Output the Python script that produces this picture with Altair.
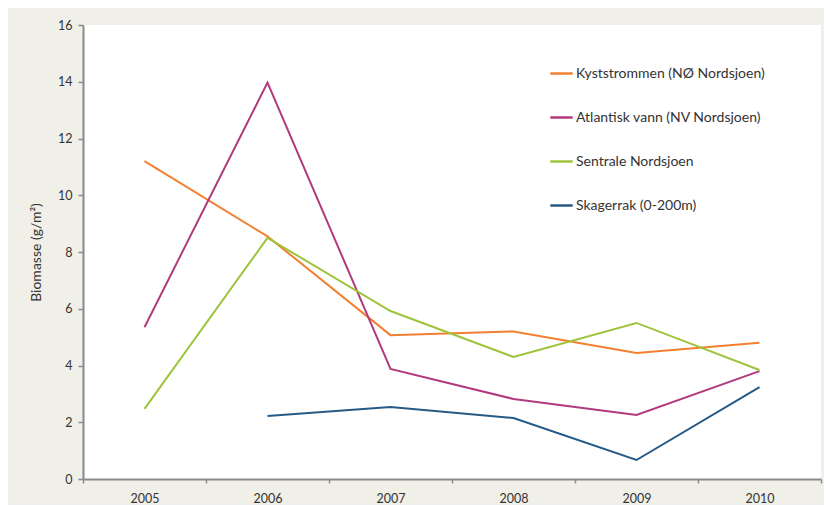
import altair as alt
import pandas as pd

years = ["2005", "2006", "2007", "2008", "2009", "2010"]
series_names = [
    "Kyststrommen (NØ Nordsjoen)",
    "Atlantisk vann (NV Nordsjoen)",
    "Sentrale Nordsjoen",
    "Skagerrak (0-200m)",
]
kyst = [11.2, 8.55, 5.07, 5.2, 4.44, 4.8]
atlantisk = [5.35, 13.97, 3.88, 2.82, 2.26, 3.8]
sentrale = [2.47, 8.5, 5.92, 4.3, 5.5, 3.84]
skagerrak = [None, 2.22, 2.54, 2.15, 0.67, 3.24]
colors = ["#f28030", "#b13a7e", "#9dc43a", "#265a86"]

rows = []
for name, vals in zip(series_names, [kyst, atlantisk, sentrale, skagerrak]):
    for y, v in zip(years, vals):
        if v is not None:
            rows.append({"Year": y, "Series": name, "Value": v})
df = pd.DataFrame(rows)

FONT = "Lato"

chart = (
    alt.Chart(df)
    .mark_line(strokeWidth=2)
    .encode(
        x=alt.X(
            "Year:O",
            scale=alt.Scale(type="band", domain=years, paddingInner=0, paddingOuter=0),
            bandPosition=0.5,
            axis=alt.Axis(
                title=None,
                labelAngle=0,
                tickBand="extent",
                domainColor="#8a8a8a",
                domainWidth=2,
                tickColor="#8a8a8a",
                tickSize=4,
                tickWidth=1.5,
                labelPadding=9,
                labelFontSize=12.5,
                labelColor="#333333",
                labelFont=FONT,
            ),
        ),
        y=alt.Y(
            "Value:Q",
            scale=alt.Scale(domain=[0, 16]),
            axis=alt.Axis(
                title="Biomasse (g/m²)",
                values=[0, 2, 4, 6, 8, 10, 12, 14, 16],
                grid=False,
                domainColor="#8a8a8a",
                domainWidth=2,
                tickColor="#8a8a8a",
                tickSize=5,
                tickWidth=1.5,
                labelPadding=6,
                labelFontSize=12.5,
                labelColor="#333333",
                labelFont=FONT,
                titleFont=FONT,
                titleFontSize=14,
                titleFontWeight="normal",
                titleColor="#333333",
                titlePadding=14,
            ),
        ),
        color=alt.Color(
            "Series:N",
            scale=alt.Scale(domain=series_names, range=colors),
            legend=alt.Legend(
                title=None,
                orient="none",
                legendX=466,
                legendY=36,
                symbolType="stroke",
                symbolSize=500,
                symbolStrokeWidth=2.5,
                labelFontSize=14,
                labelFont=FONT,
                labelColor="#333333",
                labelOffset=2,
                labelLimit=0,
                rowPadding=24,
            ),
        ),
    )
    .properties(
        width=738,
        height=454,
        autosize=alt.AutoSizeParams(type="none"),
        padding={"left": 75, "top": 17, "right": 3, "bottom": 26},
        background="#f0efe8",
    )
    .configure_view(fill="white", stroke=None)
)

chart.save("out.html", embed_options={"renderer": "svg", "actions": False})
